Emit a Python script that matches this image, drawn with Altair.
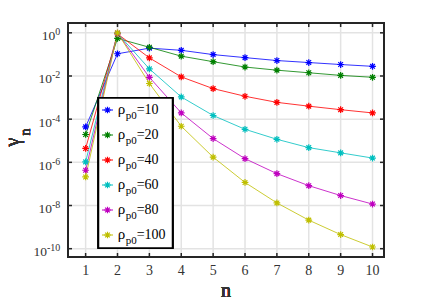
import altair as alt
import pandas as pd

n_vals = list(range(1, 11))
rho_labels = ["10", "20", "40", "60", "80", "100"]
colors = ["#0000ff", "#008000", "#ff0000", "#00bfbf", "#bf00bf", "#bfbf00"]

g_rho10 = [4.4e-5, 0.107, 0.195, 0.155, 0.098, 0.071, 0.052, 0.042, 0.034, 0.028]
g_rho20 = [1.95e-5, 0.55, 0.214, 0.083, 0.046, 0.026, 0.0186, 0.0141, 0.0107, 0.0087]
g_rho40 = [4.4e-6, 0.89, 0.069, 0.0091, 0.0026, 0.00115, 6.0e-4, 4.0e-4, 2.75e-4, 1.95e-4]
g_rho60 = [1.05e-6, 0.95, 0.0214, 0.00107, 1.48e-4, 3.4e-5, 1.17e-5, 4.8e-6, 2.75e-6, 1.58e-6]
g_rho80 = [4.3e-7, 0.98, 0.0087, 1.95e-4, 1.26e-5, 1.48e-6, 3.0e-7, 8.3e-8, 2.9e-8, 1.17e-8]
g_rho100 = [2.1e-7, 1.0, 0.0045, 4.7e-5, 1.74e-6, 1.17e-7, 1.32e-8, 2.1e-9, 4.5e-10, 1.2e-10]
series = [g_rho10, g_rho20, g_rho40, g_rho60, g_rho80, g_rho100]

x_ticks = list(range(1, 11))
y_ticks = [1e0, 1e-2, 1e-4, 1e-6, 1e-8, 1e-10]
y_exps = ["0", "-2", "-4", "-6", "-8", "-10"]

W, H = 316, 234
FONT = "Liberation Serif, Times New Roman, Times, serif"
AX = "#262626"
TXT = "#333333"

rows = []
for k, (lab, vals) in enumerate(zip(rho_labels, series)):
    for n, g in zip(n_vals, vals):
        rows.append({"n": n, "g": g, "rho": lab, "k": k})
df = pd.DataFrame(rows)

xs = alt.Scale(domain=[0.447, 10.36], nice=False, zero=False)
ys = alt.Scale(type="log", domain=[10 ** -10.385, 10 ** 0.455], nice=False)
cs = alt.Scale(domain=rho_labels, range=colors)
STAR = "M-1,0L1,0M0,-1L0,1M-0.7,-0.7L0.7,0.7M-0.7,0.7L0.7,-0.7"

xt = pd.DataFrame({"v": x_ticks, "lab": [str(v) for v in x_ticks]})
def ewidth(s):
    return sum(5.0 if c.isdigit() else 3.3 for c in s)
yt = pd.DataFrame({"v": y_ticks, "exp": y_exps,
                   "tx": [-7.7 - ewidth(s) for s in y_exps]})

X = alt.X("v:Q", scale=xs, axis=None)
Y = alt.Y("v:Q", scale=ys, axis=None)

xgrid = alt.Chart(xt).mark_rule(color="#e3e3e3", strokeWidth=1.5).encode(
    x=X, y=alt.value(0), y2=alt.value(H))
ygrid = alt.Chart(yt).mark_rule(color="#e3e3e3", strokeWidth=1.5).encode(
    y=Y, x=alt.value(0), x2=alt.value(W))

lines = alt.Chart(df).mark_line(strokeWidth=1, opacity=0.8).encode(
    x=alt.X("n:Q", scale=xs, axis=None),
    y=alt.Y("g:Q", scale=ys, axis=None),
    color=alt.Color("rho:N", scale=cs, legend=None),
    order="n:Q")
points = alt.Chart(df).mark_point(shape=STAR, size=45, filled=False, strokeWidth=1.2, opacity=1).encode(
    x=alt.X("n:Q", scale=xs, axis=None),
    y=alt.Y("g:Q", scale=ys, axis=None),
    color=alt.Color("rho:N", scale=cs, legend=None))

border = alt.Chart(xt).mark_rect(fill="transparent", stroke=AX, strokeWidth=1.8).encode(
    x=alt.value(0), x2=alt.value(W), y=alt.value(0), y2=alt.value(H))
tb = alt.Chart(xt).mark_rule(color=AX, strokeWidth=1.5).encode(x=X, y=alt.value(H), y2=alt.value(H - 4))
tt = alt.Chart(xt).mark_rule(color=AX, strokeWidth=1.5).encode(x=X, y=alt.value(0), y2=alt.value(4))
tl = alt.Chart(yt).mark_rule(color=AX, strokeWidth=1.5).encode(y=Y, x=alt.value(0), x2=alt.value(4))
tr = alt.Chart(yt).mark_rule(color=AX, strokeWidth=1.5).encode(y=Y, x=alt.value(W), x2=alt.value(W - 4))

xlab = alt.Chart(xt).mark_text(font=FONT, fontSize=14, color=TXT, baseline="alphabetic", align="center").encode(
    x=X, y=alt.value(H + 17.5), text="lab:N")
ylab10 = alt.Chart(yt).mark_text(font=FONT, fontSize=13.5, color=TXT, baseline="alphabetic",
                                 align="right", dy=7.5, text="10").encode(
    x=alt.X("tx:Q", scale=None, axis=None), y=Y)
ylabexp = alt.Chart(yt).mark_text(font=FONT, fontSize=10, color=TXT, baseline="alphabetic",
                                  align="right", dy=2.5).encode(
    x=alt.value(-7.7), y=Y, text="exp:N")

xtitle = alt.Chart(xt).mark_text(font=FONT, fontSize=20, color=TXT, baseline="alphabetic",
                                 align="center", text="n").encode(
    x=alt.value(158), y=alt.value(273.5))
ytitle = alt.Chart(xt).mark_text(font=FONT, fontSize=20, color=TXT, baseline="alphabetic",
                                 align="center", angle=270, text="γ").encode(
    x=alt.value(-49), y=alt.value(119))
ytitle_sub = alt.Chart(xt).mark_text(font=FONT, fontSize=14, color=TXT, baseline="alphabetic",
                                     align="center", angle=270, text="n").encode(
    x=alt.value(-38.5), y=alt.value(109))

leg = pd.DataFrame({"rho": rho_labels,
                    "eq": ["=" + r for r in rho_labels],
                    "ly": [87 + 25 * i for i in range(len(rho_labels))]})
LY = alt.Y("ly:Q", scale=None, axis=None)
legbox = alt.Chart(xt).mark_rect(fill="white", stroke="black", strokeWidth=1.5).encode(
    x=alt.value(30.5), x2=alt.value(104.5), y=alt.value(75), y2=alt.value(225))
legline = alt.Chart(leg).mark_rule(strokeWidth=1).encode(
    x=alt.value(34), x2=alt.value(45), y=LY, color=alt.Color("rho:N", scale=cs, legend=None))
legpt = alt.Chart(leg).mark_point(shape=STAR, size=45, filled=False, strokeWidth=1.2, opacity=1).encode(
    x=alt.value(39.5), y=LY, color=alt.Color("rho:N", scale=cs, legend=None))
legrho = alt.Chart(leg).mark_text(font=FONT, fontSize=15, color="black", align="left",
                                  baseline="alphabetic", dy=3.7, text="ρ").encode(
    x=alt.value(49.7), y=LY)
legsub = alt.Chart(leg).mark_text(font=FONT, fontSize=11, color="black", align="left",
                                  baseline="alphabetic", dy=8.5, text="p0").encode(
    x=alt.value(57.7), y=LY)
legeq = alt.Chart(leg).mark_text(font=FONT, fontSize=14, color="black", align="left",
                                 baseline="alphabetic", dy=3.7).encode(
    x=alt.value(68.7), y=LY, text="eq:N")

chart = alt.layer(
    xgrid, ygrid, lines, points, border, tb, tt, tl, tr,
    legbox, legline, legpt, legrho, legsub, legeq,
    xlab, ylab10, ylabexp, xtitle, ytitle, ytitle_sub
).resolve_scale(x="independent", y="independent").properties(
    width=W, height=H,
    autosize=alt.AutoSizeParams(type="none"),
    padding={"left": 60, "top": 15, "right": 33, "bottom": 42},
    background="white"
).configure_view(stroke=None)

chart.save("out.html", embed_options={"renderer": "svg", "actions": False})
